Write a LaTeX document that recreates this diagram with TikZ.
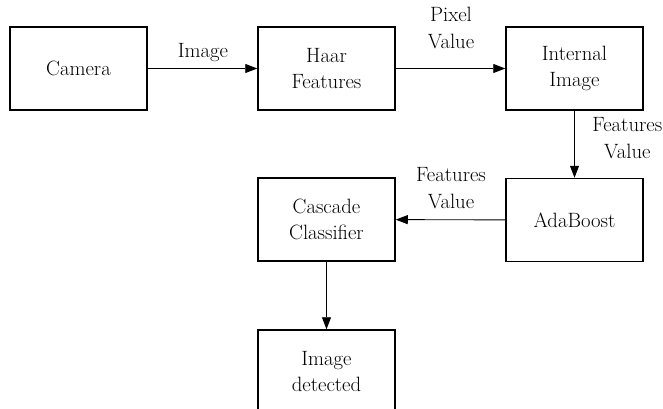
\documentclass[tikz,border=0pt]{standalone}
\usetikzlibrary{arrows.meta}
\begin{document}
\begin{tikzpicture}[x=1pt,y=-1pt,
  box/.style={draw, line width=1.5pt, minimum width=137pt, minimum height=83pt, inner sep=0pt, align=center,
    font=\fontsize{20.7}{26.5}\selectfont},
  lbl/.style={align=center, inner sep=0pt, font=\fontsize{20.7}{26.5}\selectfont},
  arr/.style={line width=0.9pt, -{Triangle[length=12pt,width=9pt]}}]
\useasboundingbox (0,0) rectangle (663,409);
\clip (0,0) rectangle (663,409);
\node[box] (cam) at (78.5,68.5) {Camera};
\node[box] (haar) at (326.5,68.5) {Haar\\Features};
\node[box] (int) at (574.5,68.5) {Internal\\Image};
\node[box] (ada) at (574.5,220) {AdaBoost};
\node[box] (cas) at (326.5,219.5) {Cascade\\Classifier};
\node[box] (det) at (326.5,371.5) {Image\\detected};
\draw[arr] (cam) -- (haar);
\draw[arr] (haar) -- (int);
\draw[arr] (int) -- (ada);
\draw[arr] (ada) -- (cas);
\draw[arr] (cas) -- (det);
\node[lbl] (l1) at (203,53) {Image};
\node[lbl] (l2) at (451,28) {Pixel\\Value};
\node[lbl, anchor=east] (l3) at (662.5,138) {Features\\Value};
\node[lbl] (l4) at (451,188) {Features\\Value};
\end{tikzpicture}
\end{document}
